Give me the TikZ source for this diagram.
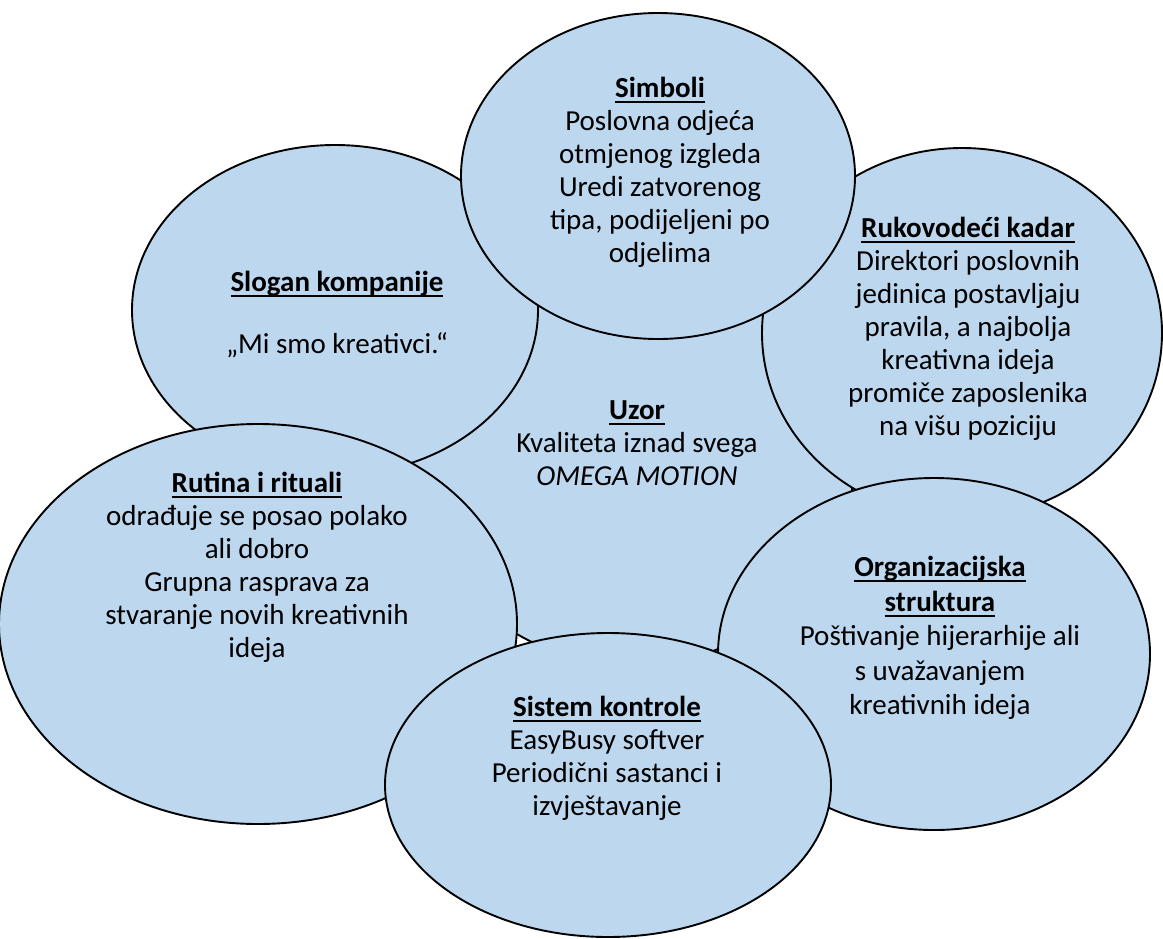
\documentclass[tikz,border=0pt]{standalone}
\usepackage{fontspec}
\setmainfont{Carlito}
\usetikzlibrary{shapes.geometric}
\definecolor{blobfill}{RGB}{189,215,238}
\newsavebox\ttlbox
\newcommand\ulttl[1]{\sbox\ttlbox{\bfseries #1}\rlap{\rule[-5.5pt]{\wd\ttlbox}{2pt}}\usebox\ttlbox}
\begin{document}
\begin{tikzpicture}[x=1pt,y=-1pt,
  blob/.style={ellipse, draw=black, line width=1.9pt, fill=blobfill, inner sep=0pt},
  lbl/.style={align=center, font=\fontsize{29}{33}\selectfont, inner sep=0pt, text=black}]
\useasboundingbox (0,0) rectangle (1163,938);
% ellipses (drawing order = layering)
\node[blob, minimum width=444pt, minimum height=420pt] (uzor) at (633,455) {};
\node[blob, minimum width=406pt, minimum height=330pt] (slogan) at (335,310) {};
\node[blob, minimum width=400pt, minimum height=370pt] (ruk) at (962,333) {};
\node[blob, minimum width=394pt, minimum height=326pt] (simb) at (658,176) {};
\node[blob, minimum width=518pt, minimum height=400pt] (rutina) at (258,624) {};
\node[blob, minimum width=432pt, minimum height=352pt] (org) at (934,654) {};
\node[blob, minimum width=446pt, minimum height=304pt] (sistem) at (608,785) {};
% texts
\node[lbl] (tsimb) at (660,172) {\ulttl{Simboli}\\Poslovna odjeća\\otmjenog izgleda\\Uredi zatvorenog\\tipa, podijeljeni po\\odjelima};
\node[lbl] (tslogan1) at (337,284) {\ulttl{Slogan kompanije}};
\node[lbl] (tslogan2) at (337,345) {„Mi smo kreativci.“};
\node[lbl] (truk) at (968,329) {\ulttl{Rukovodeći kadar}\\Direktori poslovnih\\jedinica postavljaju\\pravila, a najbolja\\kreativna ideja\\promiče zaposlenika\\na višu poziciju};
\node[lbl] (tuzor) at (637,443) {\ulttl{Uzor}\\Kvaliteta iznad svega\\\textit{OMEGA MOTION}};
\node[lbl] (trutina) at (257,567) {\ulttl{Rutina i rituali}\\odrađuje se posao polako\\ali dobro\\Grupna rasprava za\\stvaranje novih kreativnih\\ideja};
\node[lbl, font=\fontsize{29}{34.5}\selectfont] (torg) at (940,638) {\ulttl{Organizacijska}\\\ulttl{struktura}\\Poštivanje hijerarhije ali\\s uvažavanjem\\kreativnih ideja};
\node[lbl] (tsistem) at (607,758) {\ulttl{Sistem kontrole}\\EasyBusy softver\\Periodični sastanci i\\izvještavanje};
\end{tikzpicture}
\end{document}
